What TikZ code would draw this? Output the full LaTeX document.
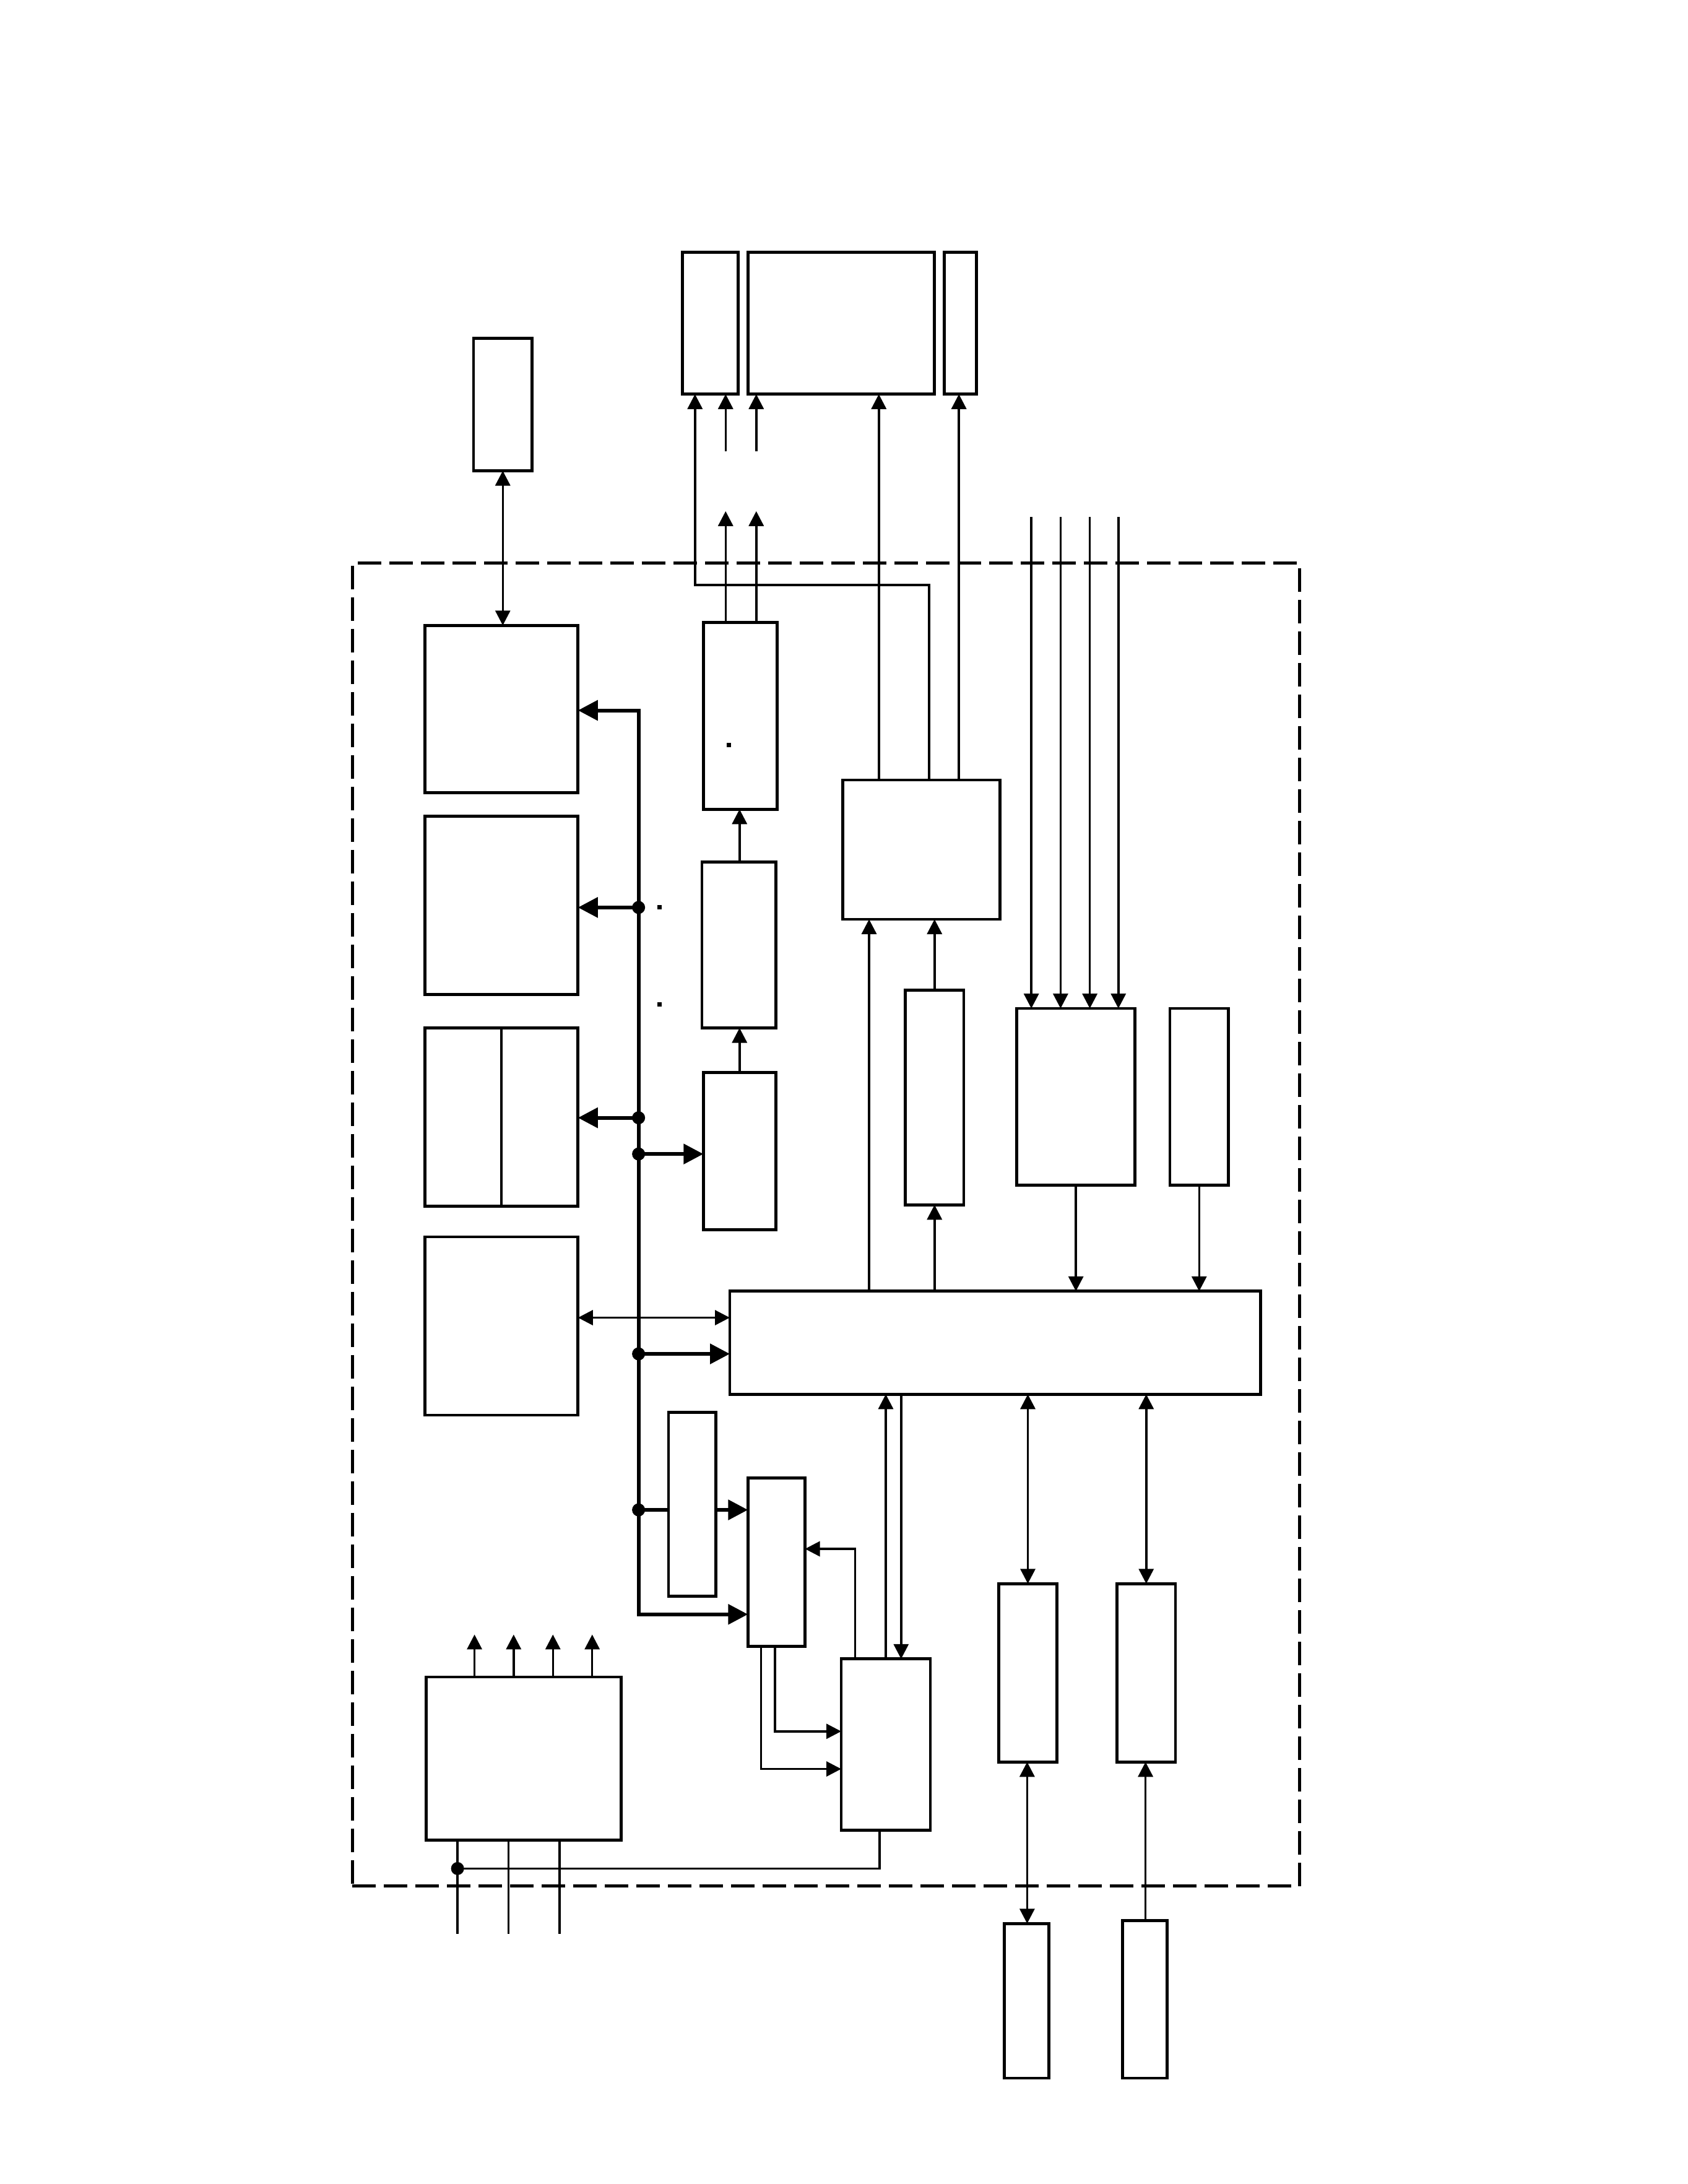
\documentclass[tikz,border=0pt]{standalone}
\usetikzlibrary{arrows.meta,fit}
\begin{document}
\begin{tikzpicture}[x=2.25pt,y=-2.25pt,
 box/.style={draw,line width=4.7pt,inner sep=0pt,outer sep=0pt},
 thinline/.style={line width=3.5pt},
 arr/.style={thinline,-{Triangle[length=24pt,width=24pt]}},
 darr/.style={thinline,{Triangle[length=24pt,width=24pt]}-{Triangle[length=24pt,width=24pt]}},
 busline/.style={line width=6pt},
 barr/.style={busline,-{Triangle[length=32pt,width=32pt]}},
 jdot/.style={circle,fill,inner sep=0pt,minimum size=21pt},
 sqdot/.style={fill,inner sep=0pt,minimum size=7pt},
 frame/.style={draw,line width=5pt,dash pattern=on 38pt off 13pt,inner sep=0pt,outer sep=0pt}]
\useasboundingbox (0,0) rectangle (1212,1568);
% frame
\node[frame,fit={(253,404) (933,1354)}] (F) {};
% top boxes
\node[box,fit={(490,181) (530,283)}] (T1) {};
\node[box,fit={(537,181) (671,283)}] (T2) {};
\node[box,fit={(678,181) (701,283)}] (T3) {};
\node[box,fit={(340,243) (382,338)}] (S) {};
\node[box,fit={(605,560) (718,660)}] (M) {};
\node[box,fit={(505,447) (558,581)}] (P1) {};
\node[box,fit={(504,619) (557,738)}] (P2) {};
\node[box,fit={(505,770) (557,883)}] (P3) {};
\node[box,fit={(305,449) (415,569)}] (L1) {};
\node[box,fit={(305,586) (415,714)}] (L2) {};
\node[box,fit={(305,738) (415,866)}] (L3) {};
\node[box,fit={(305,888) (415,1016)}] (L4) {};
\node[box,fit={(524,927) (905,1001)}] (C) {};
\node[box,fit={(650,711) (692,865)}] (N) {};
\node[box,fit={(730,724) (815,851)}] (K) {};
\node[box,fit={(840,724) (882,851)}] (J) {};
\node[box,fit={(480,1014) (514,1146)}] (Q) {};
\node[box,fit={(537,1061) (578,1182)}] (R) {};
\node[box,fit={(604,1191) (668,1314)}] (U) {};
\node[box,fit={(306,1204) (446,1321)}] (W) {};
\node[box,fit={(717,1137) (759,1265)}] (V1) {};
\node[box,fit={(802,1137) (844,1265)}] (V2) {};
\node[box,fit={(721,1381) (753,1492)}] (X1) {};
\node[box,fit={(806,1379) (838,1492)}] (X2) {};
\draw[line width=4.7pt] (L3.north) -- (L3.south);
% small marks
\node[sqdot] (d1) at (523.5,535) {};
\node[sqdot] (d2) at (473.5,651.5) {};
\node[sqdot] (d3) at (473.5,721) {};
% top connections
\draw[darr] (S.south) -- (S.south |- L1.north);
\draw[arr] (P1.north -| 521,0) -- (521,367);
\draw[arr] (P1.north -| 543,0) -- (543,367);
\draw[arr] (521,324) -- (T1.south -| 521,0);
\draw[arr] (543,324) -- (T2.south -| 543,0);
\draw[arr] (M.north -| 667,0) -- (667,420) -- (499,420) -- (T1.south -| 499,0);
\draw[arr] (M.north -| 631,0) -- (T2.south -| 631,0);
\draw[arr] (M.north -| 688.5,0) -- (T3.south -| 688.5,0);
\draw[arr] (P2.north -| 531,0) -- (P1.south -| 531,0);
\draw[arr] (P3.north -| 531,0) -- (P2.south -| 531,0);
% bus
\draw[barr] (458.5,1159) -- (458.5,510) -- (L1.east |- 0,510);
\draw[barr] (458.5,510) -- (458.5,1159) -- (R.west |- 0,1159);
\draw[barr] (458.5,651.5) -- (L2.east |- 0,651.5);
\draw[barr] (458.5,802.5) -- (L3.east |- 0,802.5);
\draw[barr] (458.5,828.5) -- (P3.west |- 0,828.5);
\draw[barr] (458.5,972) -- (C.west |- 0,972);
\draw[busline] (458.5,1084) -- (Q.west |- 0,1084);
\draw[barr] (Q.east |- 0,1084) -- (R.west |- 0,1084);
\node[jdot] (b1) at (458.5,651.5) {};
\node[jdot] (b2) at (458.5,802.5) {};
\node[jdot] (b3) at (458.5,828.5) {};
\node[jdot] (b4) at (458.5,972) {};
\node[jdot] (b5) at (458.5,1084) {};
\draw[darr] (L4.east |- 0,946) -- (C.west |- 0,946);
% C connections
\draw[arr] (C.north -| 624,0) -- (M.south -| 624,0);
\draw[arr] (C.north -| 671,0) -- (N.south -| 671,0);
\draw[arr] (N.north -| 671,0) -- (M.south -| 671,0);
\foreach \xx in {740.5,761.5,782.5,803}{\draw[arr] (\xx,371) -- (K.north -| \xx,0);}
\draw[arr] (K.south) -- (K.south |- C.north);
\draw[arr] (J.south) -- (J.south |- C.north);
\draw[darr] (C.south -| V1.north) -- (V1.north);
\draw[darr] (C.south -| V2.north) -- (V2.north);
\draw[darr] (V1.south -| 737.5,0) -- (X1.north -| 737.5,0);
\draw[arr] (X2.north -| 822.5,0) -- (V2.south -| 822.5,0);
\draw[arr] (U.north -| 636,0) -- (C.south -| 636,0);
\draw[arr] (C.south -| 647,0) -- (U.north -| 647,0);
\draw[arr] (U.north -| 614,0) -- (614,1112) -- (R.east |- 0,1112);
\draw[arr] (R.south -| 556.5,0) -- (556.5,1243) -- (U.west |- 0,1243);
\draw[arr] (R.south -| 546.5,0) -- (546.5,1270) -- (U.west |- 0,1270);
\draw[thinline] (U.south -| 631.5,0) -- (631.5,1341.5) -- (328.5,1341.5);
% W connections
\foreach \xx in {340.7,368.8,397,425.2}{\draw[arr] (W.north -| \xx,0) -- (\xx,1173.5);}
\foreach \xx in {328.5,365,401.7}{\draw[thinline] (W.south -| \xx,0) -- (\xx,1388.5);}
\node[jdot] (b6) at (328.5,1341.5) {};
\end{tikzpicture}
\end{document}
